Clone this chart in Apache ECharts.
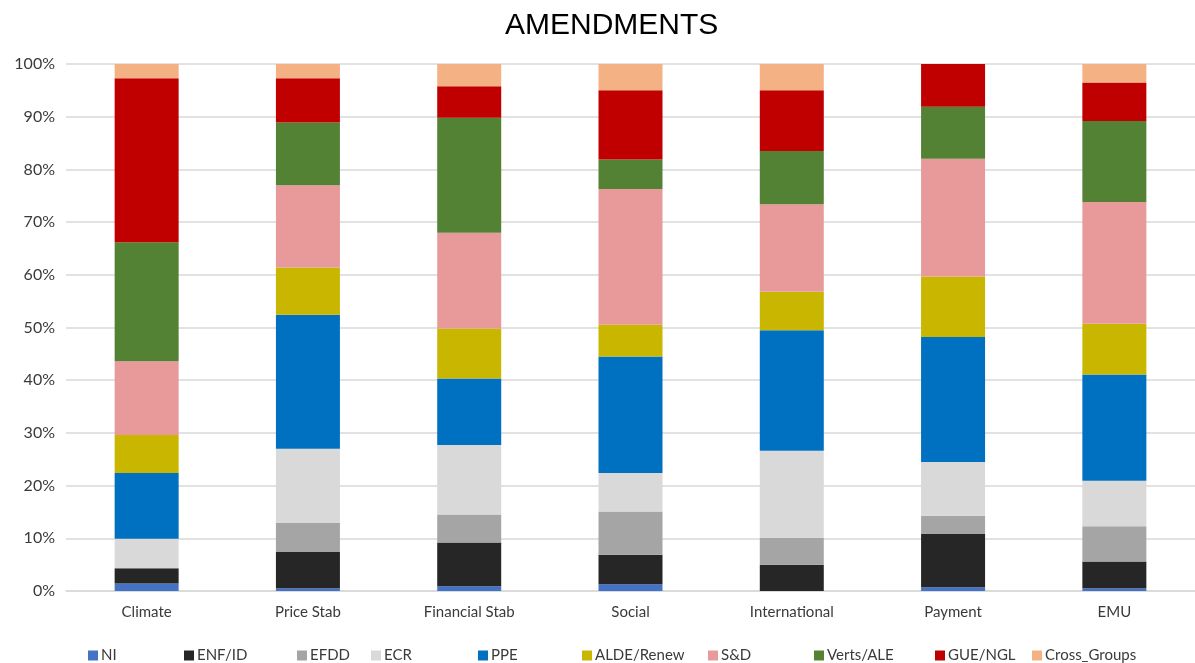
<!DOCTYPE html>
<html>
<head>
<meta charset="utf-8">
<script src="https://cdn.jsdelivr.net/npm/echarts@6/dist/echarts.min.js"></script>
<style>
  html, body { margin: 0; padding: 0; background: #fff; }
  #chart { width: 1195px; height: 663px; }
</style>
</head>
<body>
<div id="chart"></div>
<script>
// Share of amendments by political group, per topic (percent of total)
const categories = ['Climate', 'Price Stab', 'Financial Stab', 'Social', 'International', 'Payment', 'EMU'];

const groups = ['NI', 'ENF/ID', 'EFDD', 'ECR', 'PPE', 'ALDE/Renew', 'S&D', 'Verts/ALE', 'GUE/NGL', 'Cross_Groups'];

const NI          = [1.4, 0.5, 0.9, 1.3, 0.0, 0.7, 0.5];
const ENF_ID      = [2.9, 6.9, 8.3, 5.6, 5.0, 10.1, 5.1];
const EFDD        = [0.0, 5.5, 5.3, 8.2, 5.1, 3.5, 6.7];
const ECR         = [5.6, 14.1, 13.2, 7.3, 16.5, 10.2, 8.6];
const PPE         = [12.5, 25.4, 12.6, 22.1, 22.9, 23.7, 20.2];
const ALDE_Renew  = [7.2, 9.0, 9.5, 6.0, 7.3, 11.5, 9.6];
const SD          = [14.0, 15.6, 18.2, 25.8, 16.6, 22.3, 23.1];
const Verts_ALE   = [22.6, 11.9, 21.8, 5.6, 10.1, 9.9, 15.4];
const GUE_NGL     = [31.1, 8.4, 6.0, 13.1, 11.5, 8.1, 7.3];
const Cross_Groups = [2.7, 2.7, 4.2, 5.0, 5.0, 0.0, 3.5];

const yTicks = [0, 10, 20, 30, 40, 50, 60, 70, 80, 90, 100];

const seriesValues = [NI, ENF_ID, EFDD, ECR, PPE, ALDE_Renew, SD, Verts_ALE, GUE_NGL, Cross_Groups];
const colors = ['#4472C4', '#262626', '#A5A5A5', '#D9D9D9', '#0070C0', '#C9B600', '#E89A9B', '#548235', '#C00000', '#F4B183'];

// Horizontal placement of each legend entry
const legendLeft = [83, 179, 292, 366, 473, 577, 703, 809, 930, 1027];

const labelFont = 'Lato, "Open Sans", sans-serif';

const chart = echarts.init(document.getElementById('chart'), null, { renderer: 'canvas' });

chart.setOption({
  animation: false,
  color: colors,
  title: {
    text: 'AMENDMENTS',
    left: 500,
    top: 6,
    textStyle: { fontFamily: '"Liberation Sans", Arial, sans-serif', fontSize: 30, fontWeight: 'normal', color: '#000' }
  },
  grid: { left: 66, right: -4, top: 64, bottom: 72 },
  legend: groups.map((g, i) => ({
    data: [g],
    left: legendLeft[i],
    top: 643,
    itemWidth: 10,
    itemHeight: 10,
    itemGap: 0,
    icon: 'rect',
    textStyle: { fontFamily: labelFont, fontSize: 15, color: '#3a3a3a', padding: [0, 0, 0, -2] }
  })),
  xAxis: {
    type: 'category',
    data: categories,
    axisLine: { show: true, lineStyle: { color: '#D9D9D9', width: 1.5 } },
    axisTick: { show: false },
    axisLabel: { fontFamily: labelFont, fontSize: 15, color: '#3a3a3a', margin: 14 }
  },
  yAxis: {
    type: 'value',
    min: yTicks[0],
    max: yTicks[yTicks.length - 1],
    interval: yTicks[1] - yTicks[0],
    axisLine: { show: false },
    axisTick: { show: false },
    splitLine: { lineStyle: { color: '#D9D9D9', width: 1.5 } },
    axisLabel: { fontFamily: labelFont, fontSize: 16, color: '#3a3a3a', margin: 11, formatter: v => v + '%' }
  },
  series: groups.map((g, i) => ({
    name: g,
    type: 'bar',
    stack: 'total',
    barWidth: 64,
    data: seriesValues[i],
    itemStyle: { color: colors[i] }
  }))
});
</script>
</body>
</html>
